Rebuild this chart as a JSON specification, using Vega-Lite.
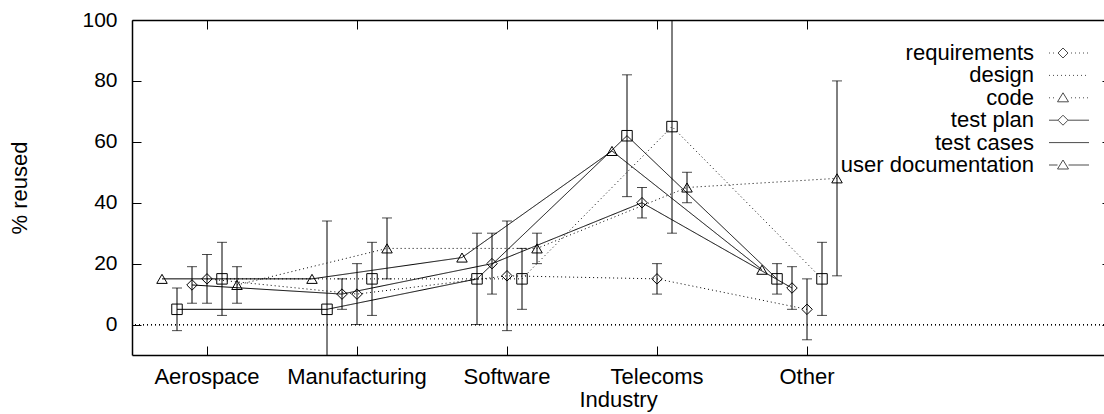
{
  "$schema": "https://vega.github.io/schema/vega-lite/v6.json",
  "width": 972,
  "height": 335,
  "autosize": "none",
  "padding": {"left": 132, "top": 20, "right": 0, "bottom": 59},
  "background": "white",
  "config": {
    "font": "Liberation Sans",
    "view": {"stroke": null},
    "axis": {"grid": false, "labelFont": "Liberation Sans", "titleFont": "Liberation Sans", "labelColor": "black", "titleColor": "black", "domainColor": "black", "tickColor": "black", "titleFontWeight": "normal"}
  },
  "data": {
    "values": [
      {"industry": "Aerospace", "series": "requirements", "value": 15, "lo": 7, "hi": 23},
      {"industry": "Aerospace", "series": "design", "value": 15, "lo": 3, "hi": 27},
      {"industry": "Aerospace", "series": "code", "value": 13, "lo": 7, "hi": 19},
      {"industry": "Aerospace", "series": "test plan", "value": 13, "lo": 7, "hi": 19},
      {"industry": "Aerospace", "series": "test cases", "value": 5, "lo": -2, "hi": 12},
      {"industry": "Aerospace", "series": "user documentation", "value": 15, "lo": null, "hi": null},
      {"industry": "Manufacturing", "series": "requirements", "value": 10, "lo": 0, "hi": 20},
      {"industry": "Manufacturing", "series": "design", "value": 15, "lo": 3, "hi": 27},
      {"industry": "Manufacturing", "series": "code", "value": 25, "lo": 15, "hi": 35},
      {"industry": "Manufacturing", "series": "test plan", "value": 10, "lo": 5, "hi": 15},
      {"industry": "Manufacturing", "series": "test cases", "value": 5, "lo": -24, "hi": 34},
      {"industry": "Manufacturing", "series": "user documentation", "value": 15, "lo": null, "hi": null},
      {"industry": "Software", "series": "requirements", "value": 16, "lo": -2, "hi": 34},
      {"industry": "Software", "series": "design", "value": 15, "lo": 5, "hi": 25},
      {"industry": "Software", "series": "code", "value": 25, "lo": 20, "hi": 30},
      {"industry": "Software", "series": "test plan", "value": 20, "lo": 10, "hi": 30},
      {"industry": "Software", "series": "test cases", "value": 15, "lo": 0, "hi": 30},
      {"industry": "Software", "series": "user documentation", "value": 22, "lo": null, "hi": null},
      {"industry": "Telecoms", "series": "requirements", "value": 15, "lo": 10, "hi": 20},
      {"industry": "Telecoms", "series": "design", "value": 65, "lo": 30, "hi": 100},
      {"industry": "Telecoms", "series": "code", "value": 45, "lo": 40, "hi": 50},
      {"industry": "Telecoms", "series": "test plan", "value": 40, "lo": 35, "hi": 45},
      {"industry": "Telecoms", "series": "test cases", "value": 62, "lo": 42, "hi": 82},
      {"industry": "Telecoms", "series": "user documentation", "value": 57, "lo": null, "hi": null},
      {"industry": "Other", "series": "requirements", "value": 5, "lo": -5, "hi": 15},
      {"industry": "Other", "series": "design", "value": 15, "lo": 3, "hi": 27},
      {"industry": "Other", "series": "code", "value": 48, "lo": 16, "hi": 80},
      {"industry": "Other", "series": "test plan", "value": 12, "lo": 5, "hi": 19},
      {"industry": "Other", "series": "test cases", "value": 15, "lo": 10, "hi": 20},
      {"industry": "Other", "series": "user documentation", "value": 18, "lo": null, "hi": null}
    ]
  },
  "layer": [
    {
      "mark": {"type": "rule", "color": "black", "strokeWidth": 1, "strokeDash": [1, 3]},
      "encoding": {
        "y": {"datum": 0, "type": "quantitative", "scale": {"domain": [-10, 100], "nice": false, "zero": false}, "axis": null}
      }
    },
    {
      "mark": {"type": "line", "color": "black", "strokeWidth": 1, "clip": true},
      "encoding": {
        "x": {
          "field": "industry", "type": "nominal",
          "scale": {"type": "band", "domain": ["Aerospace", "Manufacturing", "Software", "Telecoms", "Other"], "paddingInner": 0, "paddingOuter": 0.74, "align": 0},
          "axis": {"orient": "bottom", "title": "Industry", "labelFontSize": 22, "titleFontSize": 22, "labelAngle": 0, "tickSize": -9, "labelPadding": 20, "titlePadding": 2, "bandPosition": 0.5, "domainWidth": 1.5}
        },
        "xOffset": {
          "field": "series", "type": "nominal",
          "scale": {"type": "point", "domain": ["user documentation", "test cases", "test plan", "requirements", "design", "code"], "range": [30, 105], "padding": 0}
        },
        "y": {
          "field": "value", "type": "quantitative",
          "scale": {"domain": [-10, 100], "nice": false, "zero": false},
          "axis": {"orient": "left", "title": "% reused", "values": [0, 20, 40, 60, 80, 100], "labelFontSize": 21, "titleFontSize": 22, "tickSize": -9, "labelPadding": 24, "titlePadding": 50, "domainWidth": 1.5}
        },
        "strokeDash": {
          "field": "series", "type": "nominal",
          "scale": {"domain": ["requirements", "design", "code", "test plan", "test cases", "user documentation"], "range": [[1, 3], [1, 3], [1, 3], [1, 0], [1, 0], [1, 0]]},
          "legend": null
        },
        "order": {"value": null}
      }
    },
    {
      "transform": [{"filter": "isValid(datum.lo)"}],
      "mark": {"type": "rule", "color": "black", "strokeWidth": 1, "clip": true},
      "encoding": {
        "x": {"field": "industry", "type": "nominal", "axis": null},
        "xOffset": {"field": "series", "type": "nominal"},
        "y": {"field": "lo", "type": "quantitative", "axis": null},
        "y2": {"field": "hi"}
      }
    },
    {
      "transform": [{"filter": "isValid(datum.lo)"}],
      "mark": {"type": "tick", "color": "black", "size": 10, "thickness": 1, "orient": "horizontal", "clip": true},
      "encoding": {
        "x": {"field": "industry", "type": "nominal", "axis": null},
        "xOffset": {"field": "series", "type": "nominal"},
        "y": {"field": "lo", "type": "quantitative", "axis": null}
      }
    },
    {
      "transform": [{"filter": "isValid(datum.hi)"}],
      "mark": {"type": "tick", "color": "black", "size": 10, "thickness": 1, "orient": "horizontal", "clip": true},
      "encoding": {
        "x": {"field": "industry", "type": "nominal", "axis": null},
        "xOffset": {"field": "series", "type": "nominal"},
        "y": {"field": "hi", "type": "quantitative", "axis": null}
      }
    },
    {
      "mark": {"type": "point", "filled": false, "color": "black", "strokeWidth": 1, "size": 110, "opacity": 1},
      "encoding": {
        "x": {"field": "industry", "type": "nominal", "axis": {"orient": "top", "labels": false, "title": null, "tickSize": -9, "bandPosition": 0.5, "domainWidth": 1.5}},
        "xOffset": {"field": "series", "type": "nominal"},
        "y": {"field": "value", "type": "quantitative", "axis": {"orient": "right", "labels": false, "title": null, "values": [0, 20, 40, 60, 80, 100], "tickSize": -9, "offset": 7, "domainWidth": 1.5}},
        "shape": {
          "field": "series", "type": "nominal",
          "scale": {"domain": ["requirements", "design", "code", "test plan", "test cases", "user documentation"], "range": ["diamond", "square", "triangle-up", "diamond", "square", "triangle-up"]},
          "legend": null
        }
      }
    },
    {
      "transform": [{"filter": "false"}],
      "mark": {"type": "point", "filled": false, "color": "black", "strokeWidth": 1, "size": 400},
      "encoding": {
        "shape": {
          "field": "series", "type": "nominal",
          "scale": {
            "domain": ["requirements", "design", "code", "test plan", "test cases", "user documentation"],
            "range": [
              "M-2,0L-1.9,0M-1.6,0L-1.5,0M-1.1,0L-0.6,-0.5L-0.1,0L-0.6,0.5ZM0.2,0L0.3,0M0.6,0L0.7,0M1,0L1.1,0M1.4,0L1.5,0M1.8,0L1.9,0",
              "M-2,0L-1.9,0M-1.6,0L-1.5,0M-1.2,0L-1.1,0M-0.8,0L-0.7,0M-0.4,0L-0.3,0M0,0L0.1,0M0.4,0L0.5,0M0.8,0L0.9,0M1.2,0L1.3,0M1.6,0L1.7,0",
              "M-2,0L-1.9,0M-1.6,0L-1.5,0M-0.6,-0.5L-0.05,0.4L-1.15,0.4ZM0.2,0L0.3,0M0.6,0L0.7,0M1,0L1.1,0M1.4,0L1.5,0M1.8,0L1.9,0",
              "M-2,0L-1.1,0M-1.1,0L-0.6,-0.5L-0.1,0L-0.6,0.5ZM-0.1,0L2,0",
              "M-2,0L2,0",
              "M-2,0L-1.15,0M-0.6,-0.5L-0.05,0.4L-1.15,0.4ZM-0.05,0L2,0"
            ]
          },
          "legend": {
            "title": null, "orient": "none", "legendX": 926, "legendY": 22,
            "labelFontSize": 22, "labelFont": "Liberation Sans", "labelColor": "black",
            "labelAlign": "right", "labelOffset": -46, "labelLimit": 400,
            "rowPadding": 0.4, "symbolSize": 400, "symbolStrokeWidth": 1, "symbolStrokeColor": "black", "padding": 0
          }
        }
      }
    }
  ],
  "resolve": {"scale": {"shape": "independent"}, "axis": {"x": "independent", "y": "independent"}}
}
